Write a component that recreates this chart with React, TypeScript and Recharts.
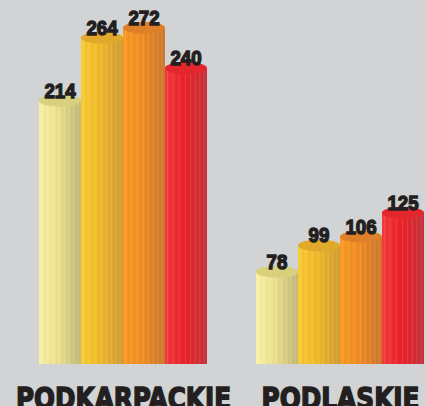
import React from 'react';
import { BarChart, Bar, XAxis, YAxis, LabelList } from 'recharts';

const categories = ['PODKARPACKIE', 'PODLASKIE'];
const series1 = [214, 78];
const series2 = [264, 99];
const series3 = [272, 106];
const series4 = [240, 125];

const data = categories.map((name, i) => ({
  name,
  s1: series1[i],
  s2: series2[i],
  s3: series3[i],
  s4: series4[i],
}));

const palettes = [
  { key: 's1', light: '#f9f1a6', mid: '#ece18e', dark: '#c2b878', top: '#d9cf7c' },
  { key: 's2', light: '#f9cb34', mid: '#f0b92a', dark: '#cf9c34', top: '#e0a92c' },
  { key: 's3', light: '#f99a22', mid: '#f18d24', dark: '#cc772e', top: '#de802a' },
  { key: 's4', light: '#f23a3e', mid: '#ec2229', dark: '#c5323c', top: '#e3262c' },
];

const stripeFractions = [0.06, 0.13, 0.19, 0.27, 0.34, 0.42, 0.49, 0.55, 0.61, 0.66, 0.72, 0.78, 0.83, 0.88, 0.93];

const RY = 6;
const W = 449;
const H = 406;

const makeShape = (si: number) => (props: any) => {
  const { x, y, width, height } = props;
  if (height == null || width == null) return null;
  const cx = x + width / 2;
  const rx = width / 2;
  const topC = y + RY;
  const bot = y + height;
  const p = palettes[si];
  const body = `M${x},${topC} L${x},${bot} A${rx},${RY} 0 0 0 ${x + width},${bot} L${x + width},${topC} Z`;
  const clipId = `clip-${si}-${props.index}`;
  return (
    <g>
      <defs>
        <clipPath id={clipId}>
          <path d={body} />
        </clipPath>
      </defs>
      <path d={body} fill={`url(#grad-${si})`} />
      <g clipPath={`url(#${clipId})`}>
        {stripeFractions.map((f, k) => (
          <line
            key={k}
            x1={x + f * width}
            x2={x + f * width}
            y1={topC}
            y2={bot + RY}
            stroke={k % 2 === 0 ? '#ffffff' : '#000000'}
            strokeOpacity={k % 2 === 0 ? 0.14 : 0.05}
            strokeWidth={0.8}
          />
        ))}
      </g>
      <ellipse cx={cx} cy={topC} rx={rx} ry={RY} fill={p.top} />
    </g>
  );
};

const ValueLabel = (props: any) => {
  const { x, y, width, value } = props;
  const s = String(value);
  return (
    <text
      x={x + width / 2}
      y={y + 3}
      textAnchor="middle"
      fontFamily="'Liberation Sans', Arial, sans-serif"
      fontWeight="bold"
      fontSize={21}
      fill="#231f20"
      stroke="#231f20"
      strokeWidth={1.4}
      textLength={s.length * 10.4}
      lengthAdjust="spacingAndGlyphs"
    >
      {s}
    </text>
  );
};

const CategoryTick = (props: any) => {
  const { x, y, payload } = props;
  const name: string = payload.value;
  const len = name.length > 10 ? 215 : 158;
  return (
    <text
      x={x}
      y={y + 45}
      textAnchor="middle"
      fontFamily="'DejaVu Sans', sans-serif"
      fontWeight="bold"
      fontSize={30}
      fill="#231f20"
      stroke="#231f20"
      strokeWidth={1.6}
      textLength={len}
      lengthAdjust="spacingAndGlyphs"
    >
      {name}
    </text>
  );
};

export default function App() {
  return (
    <div
      style={{
        position: 'absolute',
        left: 0,
        top: 0,
        width: 426,
        height: 406,
        overflow: 'hidden',
        background: '#d1d3d4',
      }}
    >
      <BarChart
        width={W}
        height={H}
        data={data}
        margin={{ top: 0, right: 0, left: 15, bottom: 0 }}
        barCategoryGap={24}
        barGap={0}
      >
        <defs>
          {palettes.map((p, i) => (
            <linearGradient key={i} id={`grad-${i}`} x1="0" y1="0" x2="1" y2="0">
              <stop offset="0%" stopColor={p.light} />
              <stop offset="45%" stopColor={p.mid} />
              <stop offset="100%" stopColor={p.dark} />
            </linearGradient>
          ))}
        </defs>
        <XAxis
          dataKey="name"
          axisLine={false}
          tickLine={false}
          tickSize={0}
          tickMargin={0}
          height={42}
          interval={0}
          tick={<CategoryTick />}
        />
        <YAxis hide domain={[0, 289.3]} allowDataOverflow />
        {palettes.map((p, i) => (
          <Bar key={p.key} dataKey={p.key} isAnimationActive={false} shape={makeShape(i)}>
            <LabelList dataKey={p.key} content={<ValueLabel />} />
          </Bar>
        ))}
      </BarChart>
    </div>
  );
}
